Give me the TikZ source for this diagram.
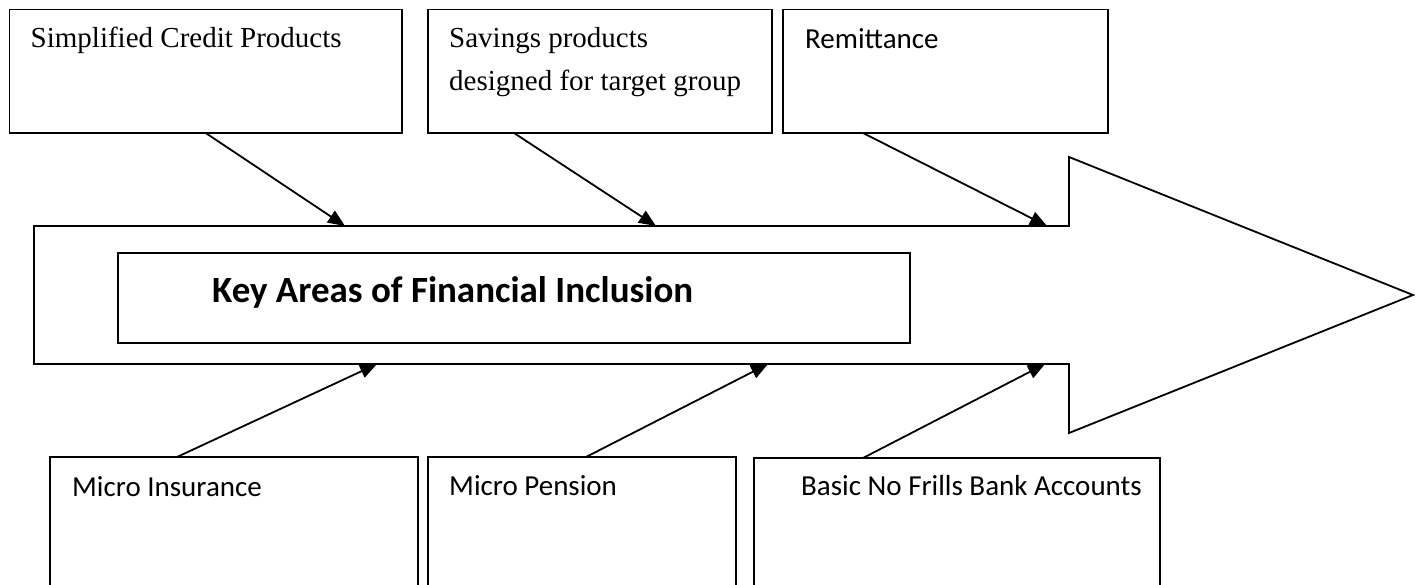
\documentclass[tikz,border=0pt]{standalone}
\usepackage{fontspec}
\setmainfont{Liberation Serif}
\newfontfamily\carlito{Carlito}
\usetikzlibrary{positioning}
\usetikzlibrary{arrows.meta}
\tikzset{%
  feed/.style = {-{Triangle[length=17pt,width=14pt]},line width=1.8pt},
  box/.style = {rectangle,draw,line width=1.8pt,inner sep=0pt,
        outer sep=0pt,anchor=north west},
  txt/.style = {anchor=base west,inner sep=0pt,align=left},
  serif/.style = {font=\fontsize{29}{43}\selectfont},
  sans/.style = {font=\carlito\fontsize{29}{34}\selectfont}
}

\begin{document}
\begin{tikzpicture}[x=1pt,y=-1pt]
   \useasboundingbox (0,0) rectangle (1421,584);
   \clip (0,0) rectangle (1421,584);

   % the big arrow
   \draw[line width=1.8pt,line join=miter] (34,226) -- (1069,226) -- (1069,157)
      -- (1413,295) -- (1069,433) -- (1069,364) -- (34,364) -- cycle;
   \node[box,minimum width=792pt,minimum height=90pt] (keyareas) at (118,253) {};
   \node[txt,font=\carlito\bfseries\fontsize{37}{42}\selectfont] (keyareas-txt)
      at ([xshift=94pt,yshift=-49pt]keyareas.north west) {Key Areas of Financial Inclusion};

   % top row
   \node[box,minimum width=392.5pt,minimum height=123.5pt] (credit) at (9.5,9.5) {};
   \node[box,minimum width=344pt,minimum height=123.5pt] (savings) at (428,9.5) {};
   \node[box,minimum width=325pt,minimum height=123.5pt] (remit) at (783,9.5) {};

   \node[txt,serif] (credit-txt) at ([xshift=21pt,yshift=-37.5pt]credit.north west)
      {Simplified Credit Products};
   \node[txt,serif] (savings-txt) at ([xshift=21pt,yshift=-80.5pt]savings.north west)
      {Savings products\\designed for target group};
   \node[txt,sans] (remit-txt) at ([xshift=22pt,yshift=-38.5pt]remit.north west)
      {Remittance};

   % bottom row
   \node[box,minimum width=368pt,minimum height=200pt] (insur) at (50,457) {};
   \node[box,minimum width=308pt,minimum height=200pt] (pension) at (428,457) {};
   \node[box,minimum width=406pt,minimum height=200pt] (accounts) at (754,458) {};

   \node[txt,sans] (insur-txt) at ([xshift=22pt,yshift=-39pt]insur.north west)
      {Micro Insurance};
   \node[txt,sans] (pension-txt) at ([xshift=21pt,yshift=-38pt]pension.north west)
      {Micro Pension};
   \node[txt,sans] (accounts-txt) at ([xshift=47pt,yshift=-37pt]accounts.north west)
      {Basic No Frills Bank Accounts};

   % points on the arrow body
   \coordinate (top1) at (345,226);
   \coordinate (top2) at (656,226);
   \coordinate (top3) at (1047,226);
   \coordinate (bot1) at (377,364);
   \coordinate (bot2) at (768,364);
   \coordinate (bot3) at (1045,364);

   \draw[feed] ([xshift=0pt]credit.south) -- (top1);
   \draw[feed] ([xshift=-86pt]savings.south) -- (top2);
   \draw[feed] ([xshift=-82.5pt]remit.south) -- (top3);

   \draw[feed] ([xshift=-57pt]insur.north) -- (bot1);
   \draw[feed] ([xshift=4pt]pension.north) -- (bot2);
   \draw[feed] ([xshift=-94pt]accounts.north) -- (bot3);
\end{tikzpicture}
\end{document}
